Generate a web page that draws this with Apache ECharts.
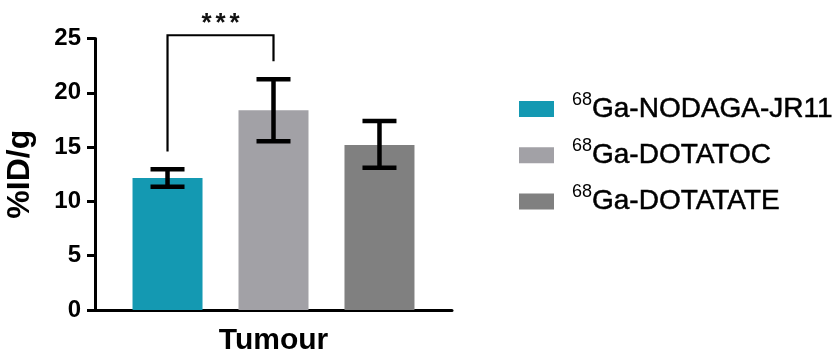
<!DOCTYPE html>
<html><head><meta charset="utf-8">
<script src="https://cdn.jsdelivr.net/npm/echarts@6/dist/echarts.min.js"></script>
<style>html,body{margin:0;padding:0;background:#fff}#c{width:834px;height:356px}</style>
</head><body><div id="c"></div>
<script>
// ---- data ----
const categories = ['Tumour'];
const isotope = '68';
const seriesNames = ['Ga-NODAGA-JR11', 'Ga-DOTATOC', 'Ga-DOTATATE'];
const means = [12.15, 18.4, 15.2];
const errLow = [11.35, 15.55, 13.1];
const errHigh = [12.95, 21.25, 17.4];
const yTicks = [0, 5, 10, 15, 20, 25];
const yAxisTitle = '%ID/g';
const sigPair = [0, 1];
const sigLabel = '***';
const sigTop = 25.3;
const sigLegEnds = [14.6, 22.9];

// ---- style ----
const colors = ['#1499b2', '#a2a1a6', '#808080'];
const FONT = 'Liberation Sans, Arial, sans-serif';
const BAR_W = 70, BAR_GAP = 0.514;
const STEP = BAR_W * (1 + BAR_GAP);

const chart = echarts.init(document.getElementById('c'), null, {renderer: 'canvas'});

const barSeries = seriesNames.map((n, i) => ({
  name: n, type: 'bar', data: [means[i]],
  barWidth: BAR_W, barGap: (BAR_GAP * 100) + '%',
  itemStyle: {color: colors[i]}, silent: true
}));

const errData = seriesNames.map((n, i) => [0, errLow[i], errHigh[i], i]);

const errSeries = {
  type: 'custom', silent: true, z: 5,
  data: errData,
  encode: {x: 0, y: [1, 2]},
  renderItem: function (params, api) {
    const idx = api.value(3);
    const c = api.coord([api.value(0), 0]);
    const x = c[0] + (idx - 1) * STEP;
    const yl = api.coord([0, api.value(1)])[1];
    const yh = api.coord([0, api.value(2)])[1];
    const hw = 17;
    const st = {stroke: '#000', lineWidth: 4.5, fill: null};
    return {type: 'group', children: [
      {type: 'line', shape: {x1: x, y1: yl, x2: x, y2: yh}, style: st},
      {type: 'line', shape: {x1: x - hw, y1: yl, x2: x + hw, y2: yl}, style: st},
      {type: 'line', shape: {x1: x - hw, y1: yh, x2: x + hw, y2: yh}, style: st}
    ]};
  }
};

const sigSeries = {
  type: 'custom', silent: true, z: 6, clip: false,
  data: [[0, sigTop, sigLegEnds[0], sigLegEnds[1]]],
  encode: {x: 0, y: 1},
  renderItem: function (params, api) {
    const c = api.coord([api.value(0), 0]);
    const xa = c[0] + (sigPair[0] - 1) * STEP;
    const xb = c[0] + (sigPair[1] - 1) * STEP;
    const yt = api.coord([0, api.value(1)])[1];
    const ya = api.coord([0, api.value(2)])[1];
    const yb = api.coord([0, api.value(3)])[1];
    const stars = sigLabel.split('');
    const children = [
      {type: 'polyline', shape: {points: [[xa, ya], [xa, yt], [xb, yt], [xb, yb]]},
        style: {stroke: '#000', lineWidth: 2.2, fill: null}}
    ];
    const mid = (xa + xb) / 2, sp = 14;
    stars.forEach((s, k) => {
      children.push({type: 'text', style: {text: s, x: mid + (k - (stars.length - 1) / 2) * sp, y: yt - 11,
        textAlign: 'center', textVerticalAlign: 'middle',
        font: 'bold 26px ' + FONT, fill: '#111'}});
    });
    return {type: 'group', children: children};
  }
};

chart.setOption({
  animation: false,
  backgroundColor: '#fff',
  grid: {left: 95, right: 382, top: 38.5, bottom: 46},
  legend: {
    data: seriesNames,
    orient: 'vertical', left: 519, top: 91, padding: 0,
    itemWidth: 35, itemHeight: 16, itemGap: 14,
    icon: 'rect', selectedMode: false,
    formatter: n => '{sup|' + isotope + '}{t|' + n + '}',
    textStyle: {
      rich: {
        sup: {fontSize: 18, fontFamily: FONT, color: '#000', lineHeight: 12, verticalAlign: 'top', padding: [0, 0, 0, 13]},
        t: {fontSize: 28, fontFamily: FONT, color: '#000', lineHeight: 36, textBorderColor: '#000', textBorderWidth: 0.5}
      }
    }
  },
  xAxis: {
    type: 'category', data: categories,
    axisLine: {lineStyle: {color: '#000', width: 3}},
    axisTick: {alignWithLabel: true, length: 8, lineStyle: {color: '#000', width: 3}},
    axisLabel: {color: '#000', fontSize: 30, fontWeight: 'bold', fontFamily: FONT, margin: 16}
  },
  yAxis: {
    type: 'value', min: yTicks[0], max: yTicks[yTicks.length - 1], interval: yTicks[1] - yTicks[0],
    name: yAxisTitle, nameLocation: 'middle', nameGap: 59, nameRotate: 90,
    nameTextStyle: {color: '#000', fontSize: 32, fontWeight: 'bold', fontFamily: FONT},
    axisLine: {show: true, lineStyle: {color: '#000', width: 3}},
    axisTick: {show: true, length: 8, lineStyle: {color: '#000', width: 3}},
    axisLabel: {color: '#000', fontSize: 24, fontWeight: 'bold', fontFamily: FONT, margin: 14},
    splitLine: {show: false}
  },
  series: [...barSeries, errSeries, sigSeries]
});
</script>
</body></html>
